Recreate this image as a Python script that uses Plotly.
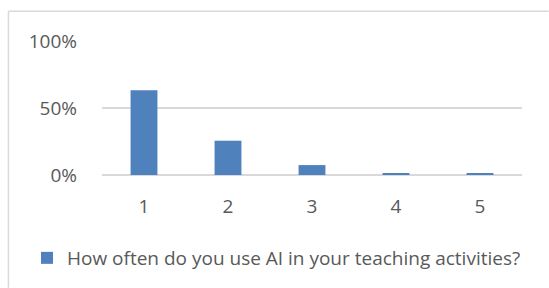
import plotly.graph_objects as go

categories = ["1", "2", "3", "4", "5"]
values = [0.633, 0.256, 0.074, 0.015, 0.008]
series_name = "How often do you use AI in your teaching activities?"
y_ticks = [0, 0.5, 1.0]
y_tick_labels = ["0%", "50%", "100%"]

L, R, T, B = 101.7, 522.3, 40.7, 175.0
W, H = 549, 288
pw, ph = R - L, B - T

def px_x(px):
    return (px - L) / pw

def px_y(py):
    return (B - py) / ph

fig = go.Figure()
fig.add_trace(go.Bar(x=categories, y=values, name=series_name,
                     marker=dict(color="#4f81bd", line=dict(width=0))))

fig.update_layout(
    width=W, height=H,
    margin=dict(l=L, r=W - R, t=T, b=H - B, pad=0, autoexpand=False),
    plot_bgcolor="white", paper_bgcolor="white",
    bargap=0.68,
    font=dict(family="Open Sans", color="#595959", size=18),
    showlegend=True,
    legend=dict(orientation="h", xref="container", yref="container",
                x=27 / W, y=1 - 258 / H, xanchor="left", yanchor="middle",
                font=dict(size=19, color="#595959"), bgcolor="rgba(0,0,0,0)"),
    xaxis=dict(showgrid=False, showline=False, ticks="", tickfont=dict(size=19),
               ticklabelstandoff=18, automargin=False),
    yaxis=dict(range=[0, 1.0], tickvals=y_ticks, ticktext=y_tick_labels,
               showgrid=True, gridcolor="#d9d9d9", gridwidth=1.5,
               zeroline=True, zerolinecolor="#d9d9d9", zerolinewidth=1.5,
               showline=False, ticks="", tickfont=dict(size=19), ticklabelstandoff=24,
               automargin=False),
    shapes=[
        dict(type="line", xref="paper", yref="paper", x0=px_x(8), x1=px_x(549), y0=px_y(11), y1=px_y(11),
             line=dict(color="#d9d9d9", width=1.5)),
        dict(type="line", xref="paper", yref="paper", x0=px_x(8), x1=px_x(8), y0=px_y(11), y1=px_y(288),
             line=dict(color="#d9d9d9", width=1.5)),
    ],
)
fig.write_html("out.html", config={"displayModeBar": False},
               post_script="document.body.style.margin='0';document.body.style.overflow='hidden';")
